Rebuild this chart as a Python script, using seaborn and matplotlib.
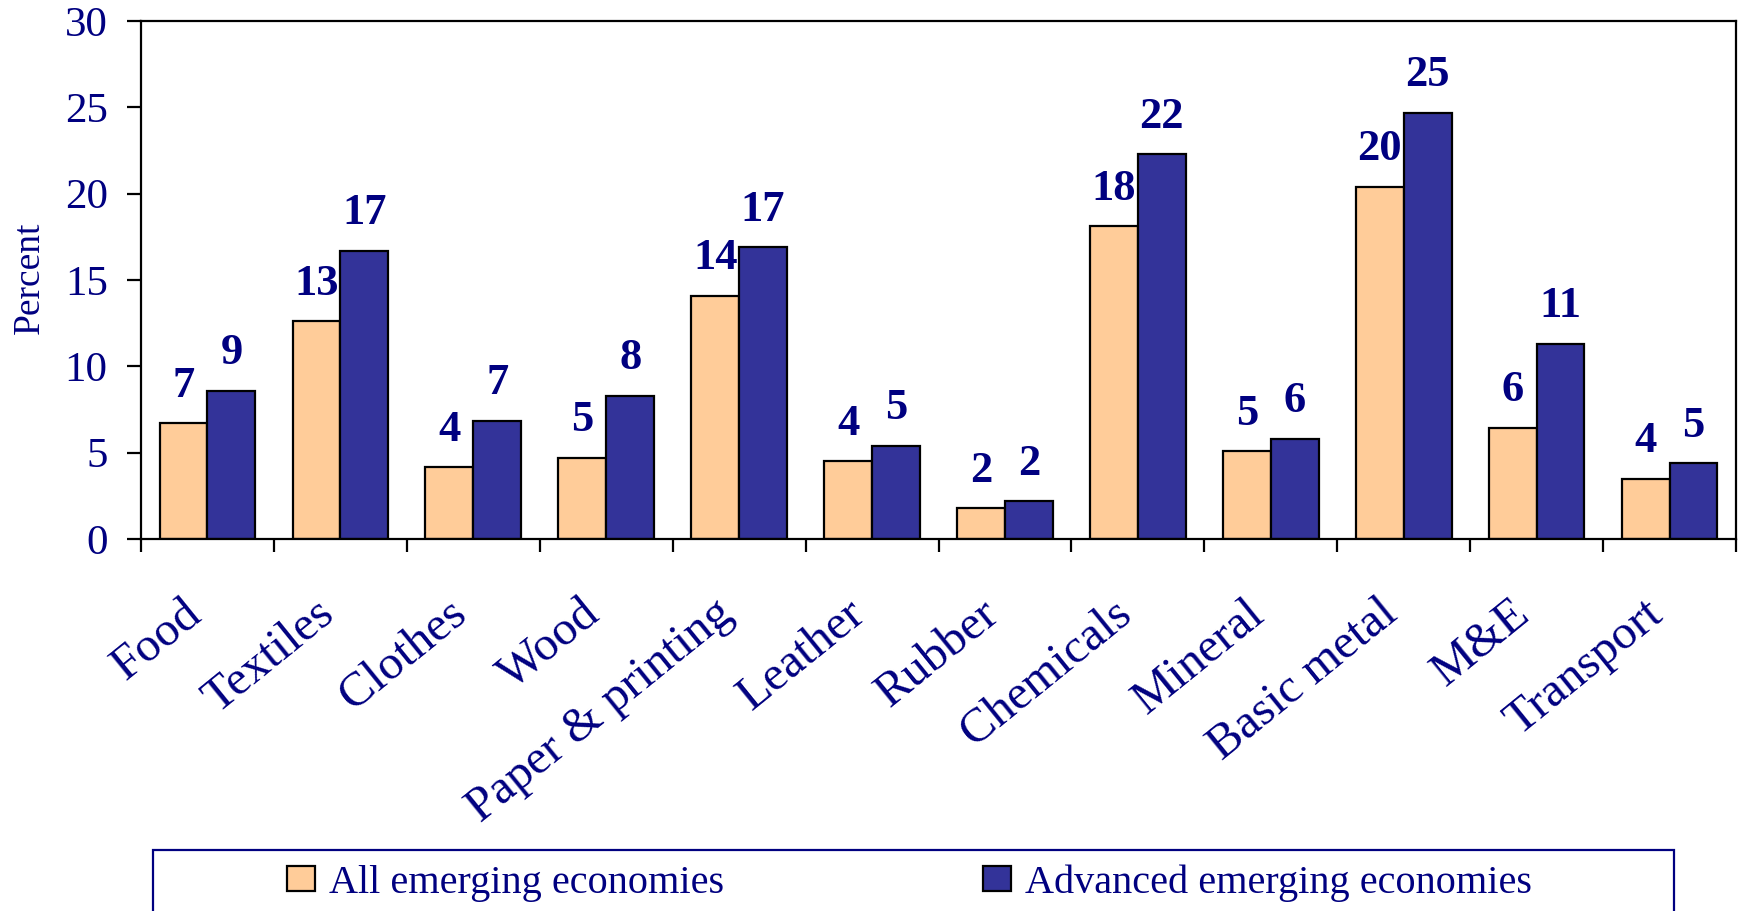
import matplotlib
matplotlib.use("Agg")
import matplotlib.pyplot as plt
import matplotlib.transforms as mtransforms
from matplotlib.patches import Patch, Rectangle
import seaborn as sns
import pandas as pd
import numpy as np

# ---- data ----
categories = ["Food", "Textiles", "Clothes", "Wood", "Paper & printing", "Leather",
              "Rubber", "Chemicals", "Mineral", "Basic metal", "M&E", "Transport"]
all_emerging = [6.7, 12.6, 4.15, 4.7, 14.1, 4.5, 1.8, 18.1, 5.1, 20.4, 6.45, 3.5]
advanced_emerging = [8.6, 16.7, 6.85, 8.3, 16.9, 5.4, 2.2, 22.3, 5.8, 24.7, 11.3, 4.4]
all_labels = ["7", "13", "4", "5", "14", "4", "2", "18", "5", "20", "6", "4"]
adv_labels = ["9", "17", "7", "8", "17", "5", "2", "22", "6", "25", "11", "5"]
series_names = ["All emerging economies", "Advanced emerging economies"]
y_ticks = [0, 5, 10, 15, 20, 25, 30]

NAVY = "#000080"
colors = ["#FFCC99", "#333399"]

df = pd.DataFrame({
    "category": categories * 2,
    "value": all_emerging + advanced_emerging,
    "series": [series_names[0]] * len(categories) + [series_names[1]] * len(categories),
})

sns.set_theme(style="white")
plt.rcParams["font.family"] = ["Liberation Serif", "DejaVu Serif"]

fig = plt.figure(figsize=(17.44, 9.11), dpi=100)
ax = fig.add_axes([141 / 1744, 1 - 539 / 911, (1736 - 141) / 1744, (539 - 21) / 911])

sns.barplot(data=df, x="category", y="value", hue="series", order=categories,
            hue_order=series_names, palette=colors, width=0.72, gap=0,
            edgecolor="black", linewidth=1.6, saturation=1, ax=ax, legend=False)

ax.set_ylim(0, 30)
ax.set_xlim(-0.5, len(categories) - 0.5)
ax.set_yticks(y_ticks)
ax.set_yticklabels([str(t) for t in y_ticks])
ax.set_xlabel("")
ax.set_ylabel("")

for sp in ax.spines.values():
    sp.set_color("black")
    sp.set_linewidth(1.6)
    sp.set_visible(True)

ax.tick_params(axis="y", direction="out", length=10, width=1.6, color="black",
               pad=14, labelsize=31, labelcolor=NAVY, left=True)
# category labels at centers (no tick mark), tick marks at boundaries
ax.set_xticks(np.arange(len(categories)))
ax.set_xticklabels(categories, rotation=39, ha="right", va="center",
                   rotation_mode="anchor", fontsize=35, color=NAVY)
ax.tick_params(axis="x", which="major", length=0, pad=50)
ax.set_xticks(np.arange(-0.5, len(categories)), minor=True)
ax.tick_params(axis="x", which="minor", direction="out", length=9, width=1.6,
               color="black", bottom=True)
offset = mtransforms.ScaledTranslation(-12 / 100, 0, fig.dpi_scale_trans)
for lbl in ax.get_xticklabels():
    lbl.set_transform(lbl.get_transform() + offset)

# value labels
containers = ax.containers
for cont, labels in zip(containers, [all_labels, adv_labels]):
    for bar, lab in zip(cont, labels):
        ax.annotate(lab, (bar.get_x() + bar.get_width() / 2, bar.get_height()),
                    xytext=(0, 19), textcoords="offset points", ha="center",
                    va="baseline", fontsize=32, fontweight="bold", color=NAVY)

fig.text(30 / 1744, 1 - 278 / 911, "Percent", rotation=90, ha="center", va="center",
         fontsize=27, color=NAVY)

# legend: frame drawn as a figure rectangle, cut off at bottom like the original
fig.patches.append(Rectangle((153 / 1744, -0.05), (1674 - 153) / 1744, 0.05 + (911 - 850) / 911,
                             transform=fig.transFigure, fill=False, edgecolor=NAVY,
                             linewidth=1.6, zorder=0))
for name, col, xpos in zip(series_names, colors, [287, 983]):
    fig.legend([Patch(facecolor=col, edgecolor="black", linewidth=1.6)], [name],
               loc="center left", bbox_to_anchor=(xpos / 1744, 1 - 883 / 911),
               frameon=False, fontsize=29, labelcolor=NAVY, handlelength=0.7,
               handleheight=0.6, handletextpad=0.35, borderpad=0, borderaxespad=0)

fig.savefig("out.png", dpi=100)
